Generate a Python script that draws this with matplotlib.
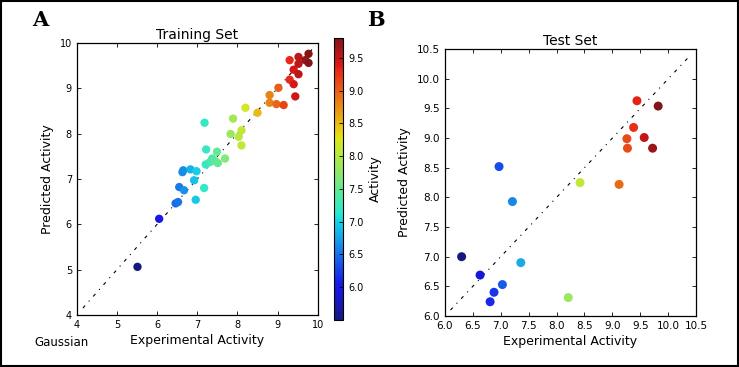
import matplotlib
matplotlib.use("Agg")
import matplotlib.pyplot as plt
from matplotlib.patches import Rectangle
from matplotlib.colors import ListedColormap
import numpy as np

# Training set data (experimental, predicted)
train_exp = [5.51, 6.05, 6.46, 6.52, 6.55, 6.67, 6.63, 6.65, 6.83, 6.98, 6.92, 6.96,
             7.17, 7.18, 7.22, 7.21, 7.31, 7.37, 7.45, 7.51, 7.69, 7.49,
             7.83, 7.89, 8.03, 8.10, 8.10, 8.20, 8.50, 8.80, 8.80, 8.97, 9.15, 9.02,
             9.30, 9.30, 9.40, 9.44, 9.40, 9.52, 9.52, 9.52, 9.69, 9.77, 9.77]
train_pred = [5.06, 6.12, 6.46, 6.49, 6.82, 6.75, 7.15, 7.19, 7.21, 7.17, 6.97, 6.54,
              6.80, 8.24, 7.65, 7.32, 7.37, 7.45, 7.39, 7.35, 7.45, 7.60,
              7.99, 8.33, 7.93, 8.07, 7.74, 8.57, 8.46, 8.85, 8.68, 8.65, 8.63, 9.01,
              9.62, 9.19, 9.09, 8.82, 9.41, 9.54, 9.69, 9.31, 9.62, 9.76, 9.56]

# Test set data
test_exp = [6.30, 6.63, 6.81, 6.88, 6.97, 7.03, 7.21, 7.36, 8.21, 8.42,
            9.12, 9.26, 9.27, 9.38, 9.44, 9.57, 9.72, 9.82]
test_pred = [7.00, 6.69, 6.24, 6.40, 8.52, 6.53, 7.93, 6.90, 6.31, 8.25,
             8.22, 8.99, 8.83, 9.18, 9.63, 9.01, 8.83, 9.54]

train_xticks = [4, 5, 6, 7, 8, 9, 10]
test_ticks = [6.0, 6.5, 7.0, 7.5, 8.0, 8.5, 9.0, 9.5, 10.0, 10.5]
cbar_ticks = [6.0, 6.5, 7.0, 7.5, 8.0, 8.5, 9.0, 9.5]

# slightly muted jet colormap (matches the printed look)
base = plt.get_cmap('jet')(np.linspace(0, 1, 256))
muted = base.copy()
muted[:, :3] = base[:, :3] * 0.82 + 0.5 * 0.18
cmap = ListedColormap(muted)

fig = plt.figure(figsize=(7.39, 3.67), dpi=100)

# Training axes
ax1 = fig.add_axes([0.104, 0.142, 0.326, 0.741])
sc = ax1.scatter(train_exp, train_pred, c=train_exp, cmap=cmap, vmin=5.5, vmax=9.8,
                 s=36, edgecolors='none', zorder=3)
ax1.plot([4.15, 9.95], [4.15, 9.95], color='black', lw=0.8,
         linestyle=(0, (3, 5, 1, 5)), zorder=2)
ax1.set_xlim(4, 10)
ax1.set_ylim(4, 10)
ax1.set_xticks(train_xticks)
ax1.set_yticks(train_xticks)
ax1.tick_params(labelsize=7, direction='in', length=3, width=0.6,
                top=True, right=True)
ax1.set_title('Training Set', fontsize=10, pad=3)
ax1.set_xlabel('Experimental Activity', fontsize=9, labelpad=3)
ax1.set_ylabel('Predicted Activity', fontsize=9, labelpad=4)

# Colorbar
cax = fig.add_axes([0.452, 0.128, 0.0125, 0.768])
cb = fig.colorbar(sc, cax=cax, ticks=cbar_ticks)
cb.ax.set_yticklabels([f'{t:.1f}' for t in cbar_ticks])
cb.ax.tick_params(labelsize=7, direction='in', length=3, width=0.6)
cb.set_label('Activity', fontsize=9, labelpad=4)
cb.outline.set_linewidth(0.8)

# Test axes
ax2 = fig.add_axes([0.602, 0.139, 0.340, 0.727])
ax2.scatter(test_exp, test_pred, c=test_exp, cmap=cmap, vmin=6.3, vmax=9.82,
            s=42, edgecolors='none', zorder=3)
ax2.plot([6.1, 10.4], [6.1, 10.4], color='black', lw=0.8,
         linestyle=(0, (3, 5, 1, 5)), zorder=2)
ax2.set_xlim(6.0, 10.5)
ax2.set_ylim(6.0, 10.5)
ax2.set_xticks(test_ticks)
ax2.set_yticks(test_ticks)
ax2.set_xticklabels([f'{t:.1f}' for t in test_ticks])
ax2.set_yticklabels([f'{t:.1f}' for t in test_ticks])
ax2.tick_params(labelsize=7.5, direction='in', length=3, width=0.6,
                top=True, right=True)
ax2.set_title('Test Set', fontsize=10, pad=3)
ax2.set_xlabel('Experimental Activity', fontsize=9, labelpad=3)
ax2.set_ylabel('Predicted Activity', fontsize=9, labelpad=4)

for ax in (ax1, ax2):
    for sp in ax.spines.values():
        sp.set_linewidth(0.9)

# Panel labels
fig.text(0.055, 0.945, 'A', fontsize=15, fontweight='bold', family='DejaVu Serif',
         ha='center', va='center')
fig.text(0.508, 0.945, 'B', fontsize=15, fontweight='bold', family='DejaVu Serif',
         ha='center', va='center')
fig.text(0.047, 0.068, 'Gaussian', fontsize=8.5, ha='left', va='center')

# Figure border
fig.patches.append(Rectangle((0.002, 0.003), 0.996, 0.994, transform=fig.transFigure,
                             fill=False, edgecolor='black', lw=1.5))

fig.savefig('out.png', dpi=100)
